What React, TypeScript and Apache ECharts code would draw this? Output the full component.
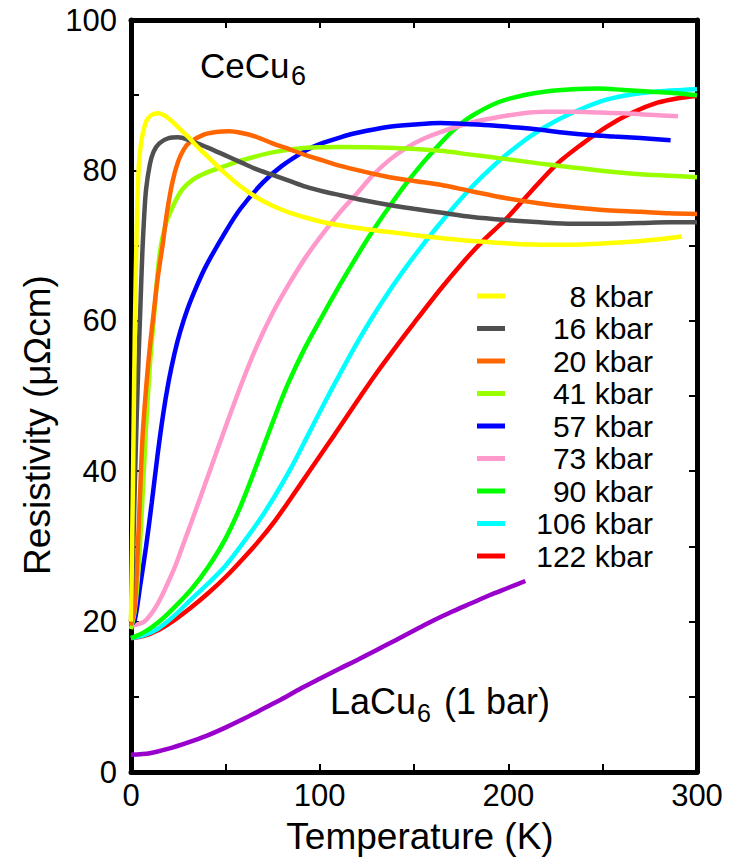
import React, { useEffect, useRef } from "react";
import * as echarts from "echarts";

const FONT = "'Liberation Sans', Arial, sans-serif";

// pressure labels (legend order)
const legendNames = ["8 kbar", "16 kbar", "20 kbar", "41 kbar", "57 kbar", "73 kbar", "90 kbar", "106 kbar", "122 kbar"];
const legendColors = ["#ffff00", "#505050", "#ff6600", "#99ff00", "#0000ff", "#ff99cc", "#00ff00", "#00ffff", "#ff0000"];

// [Temperature (K), Resistivity (µΩcm)]
const k8: [number, number][] = [[0,20],[1,38],[2,58],[3,72],[4,80],[5,83],[6,84.6],[8,86.5],[10,87.2],[12,87.5],[14.5,87.6],[17,87.4],[20,86.9],[24,86],[28,85],[31,84.3],[35,83.2],[40,82],[49,79.8],[58,77.9],[66,76.5],[75,75.3],[84,74.4],[93,73.7],[102,73.1],[111,72.7],[124,72.2],[137,71.8],[150,71.4],[164,71],[181,70.6],[199,70.3],[212,70.15],[226,70.1],[239,70.15],[252,70.3],[265,70.5],[279,70.8],[292,71.2]];
const k16: [number, number][] = [[0,20],[1,28],[2,38],[3,47],[4,55],[5,62],[6,69],[7,74],[8,77.5],[10,80.8],[12,82.5],[15,83.6],[20,84.3],[25,84.4],[30,84.1],[40,83.1],[50,82],[58,81.1],[66,80.2],[75,79.4],[84,78.6],[93,77.8],[102,77.2],[111,76.7],[124,76],[137,75.4],[150,74.9],[164,74.4],[181,73.8],[199,73.4],[217,73.1],[234,72.9],[252,72.9],[270,73],[285,73.1],[300,73.1]];
const k20: [number, number][] = [[0,19.5],[2,22],[4,32],[6,44],[8,51],[10,56.5],[12,61],[14,65.4],[17,70.5],[19,74.3],[22,78.5],[25,81.2],[28,82.8],[31,83.7],[38,84.7],[45,85.1],[52,85.2],[58,85],[66,84.5],[75,83.6],[84,82.8],[93,82],[102,81.3],[111,80.6],[124,79.8],[137,79.1],[150,78.6],[164,78.1],[181,77.2],[199,76.3],[217,75.6],[234,75.1],[252,74.7],[270,74.5],[285,74.3],[300,74.2]];
const k41: [number, number][] = [[0,19],[2,21.5],[4,27],[6,36],[8,46],[10,54],[12,60],[15,68.5],[18,72.5],[22,75.1],[27,77.4],[33,78.8],[40,79.7],[50,80.6],[58,81.3],[75,82.4],[93,83],[111,83.1],[137,83],[164,82.6],[180,82.1],[199,81.5],[217,80.9],[234,80.4],[252,79.9],[270,79.5],[285,79.3],[300,79.1]];
const k57: [number, number][] = [[0,19.5],[2,20.2],[5,25],[8,30],[11,35.8],[14,42],[17,47.5],[20,52],[23,55.6],[26,58.5],[30,61.6],[35,64.7],[40,67.4],[50,71.8],[58,74.9],[70,78.4],[80,80.6],[93,82.7],[100,83.5],[111,84.4],[120,85],[137,85.8],[150,86.1],[164,86.3],[175,86.2],[190,86],[205,85.7],[217,85.4],[230,85],[243,84.7],[256,84.5],[270,84.3],[286,84]];
const k73: [number, number][] = [[0,19.5],[3,19.6],[7,20],[10,20.8],[14,22.3],[18,24.3],[23,27.1],[27,29.8],[32,33.2],[41,39.5],[50,45.8],[59,51.9],[67,56.8],[75,61],[84,65],[93,68.6],[102,71.7],[111,74.5],[120,77],[128,79.3],[137,81.4],[146,83],[155,84.2],[164,85.1],[181,86.4],[195,87.1],[208,87.6],[220,87.8],[234,87.8],[248,87.7],[261,87.6],[275,87.4],[290,87.2]];
const k90: [number, number][] = [[0,17.8],[7,18.6],[14,19.8],[23,21.9],[32,24.3],[41,27.3],[50,31],[58,35.3],[67,41.1],[76,47.1],[83,51.5],[92,56.3],[102,60.9],[111,64.9],[120,68.7],[128,71.9],[137,75.2],[146,78.3],[155,81.1],[164,83.6],[172,85.6],[181,87.3],[195,89.1],[208,90],[220,90.5],[234,90.8],[248,90.9],[261,90.7],[274,90.5],[287,90.3],[300,90]];
const k106: [number, number][] = [[0,17.8],[7,18.2],[14,19],[23,20.8],[32,23],[41,25.1],[50,27.4],[58,30],[67,33.1],[76,36.6],[85,40.5],[94,44.9],[103,49.3],[110,52.6],[119,56.7],[128,60.5],[137,64],[146,67.2],[155,70.2],[164,73],[172,75.4],[181,77.9],[190,80.1],[199,82.1],[212,84.6],[226,86.7],[239,88.2],[252,89.4],[265,90.1],[279,90.5],[292,90.7],[300,90.8]];
const k122: [number, number][] = [[0,17.8],[7,18.1],[14,18.8],[23,20.2],[32,21.9],[41,23.8],[50,25.9],[58,28],[67,30.5],[76,33.3],[85,36.5],[94,39.8],[100,42],[108,44.9],[115,47.5],[122,50.1],[130,53],[140,56.4],[150,59.7],[164,64.2],[175,67.5],[186,70.5],[199,73.6],[212,77.2],[226,80.9],[239,83.5],[252,85.8],[265,87.6],[279,89],[290,89.6],[300,89.9]];
const laCu6: [number, number][] = [[0,2.3],[10,2.5],[20,3.1],[30,3.9],[40,4.8],[50,5.9],[60,7.1],[70,8.4],[80,9.7],[90,11.1],[100,12.4],[111,13.8],[120,14.9],[130,16.2],[140,17.5],[153,19.2],[160,20.1],[170,21.3],[180,22.4],[190,23.5],[200,24.5],[209,25.4]];

const ceSeries = [k8, k16, k20, k41, k57, k73, k90, k106, k122];

export default function App() {
  const ref = useRef<HTMLDivElement>(null);
  useEffect(() => {
    if (!ref.current) return;
    const chart = echarts.init(ref.current, null, { renderer: "svg" });
    const axisLine = { show: true, onZero: false, lineStyle: { color: "#000", width: 5 } };
    const tick = { show: true, inside: true, length: 8, lineStyle: { color: "#000", width: 2 } };
    const minor = { show: true, splitNumber: 2, length: 8, lineStyle: { color: "#000", width: 2 } };
    const series: any[] = [
      {
        name: "LaCu6",
        type: "line",
        data: laCu6,
        showSymbol: false,
        symbol: "none",
        smooth: 0.3,
        silent: true,
        lineStyle: { color: "#9900cc", width: 4.5 },
        itemStyle: { color: "#9900cc" },
      },
    ];
    // draw high pressure first so 8 kbar is on top
    for (let i = ceSeries.length - 1; i >= 0; i--) {
      series.push({
        name: legendNames[i],
        type: "line",
        data: ceSeries[i],
        showSymbol: false,
        symbol: "none",
        smooth: 0.3,
        silent: true,
        lineStyle: { color: legendColors[i], width: 4.5 },
        itemStyle: { color: legendColors[i] },
      });
    }
    const txt = (text: string, x: number, y: number, fontSize: number, extra: any = {}) => ({
      type: "text",
      x,
      y,
      ...extra,
      style: { text, fontSize, fontFamily: FONT, fill: "#000", align: "left", verticalAlign: "middle", ...(extra.style || {}) },
    });
    chart.setOption({
      animation: false,
      backgroundColor: "#ffffff",
      textStyle: { fontFamily: FONT },
      grid: { left: 131, right: 44, top: 20, bottom: 88, containLabel: false },
      xAxis: [
        {
          type: "value",
          min: 0,
          max: 300,
          interval: 100,
          position: "bottom",
          axisLine,
          axisTick: tick,
          minorTick: minor,
          splitLine: { show: false },
          minorSplitLine: { show: false },
          axisLabel: { fontSize: 31, color: "#000", margin: 8, fontFamily: FONT },
        },
        {
          type: "value",
          min: 0,
          max: 300,
          interval: 100,
          position: "top",
          axisLine,
          axisTick: tick,
          minorTick: minor,
          splitLine: { show: false },
          axisLabel: { show: false },
        },
      ],
      yAxis: [
        {
          type: "value",
          min: 0,
          max: 100,
          interval: 20,
          position: "left",
          axisLine,
          axisTick: tick,
          minorTick: minor,
          splitLine: { show: false },
          minorSplitLine: { show: false },
          axisLabel: { fontSize: 31, color: "#000", margin: 14, fontFamily: FONT },
        },
        {
          type: "value",
          min: 0,
          max: 100,
          interval: 20,
          position: "right",
          axisLine,
          axisTick: tick,
          minorTick: minor,
          splitLine: { show: false },
          axisLabel: { show: false },
        },
      ],
      legend: {
        data: legendNames,
        orient: "vertical",
        left: 477,
        top: 281,
        padding: 0,
        itemWidth: 28,
        itemHeight: 5,
        itemGap: 2.5,
        icon: "rect",
        selectedMode: false,
        formatter: (name: string) => `{n|${name}}`,
        textStyle: {
          fontSize: 30,
          color: "#000",
          fontFamily: FONT,
          rich: { n: { width: 143, align: "right", fontSize: 30, color: "#000", fontFamily: FONT } },
        },
      },
      graphic: [
        txt("Temperature (K)", 420, 836, 37, { style: { align: "center" } }),
        txt("Resistivity (μΩcm)", 37, 425, 37, { rotation: Math.PI / 2, style: { align: "center" } }),
        txt("CeCu", 200, 65, 35),
        txt("6", 291, 76, 27),
        txt("LaCu", 330, 701, 36),
        txt("6", 417, 713, 25),
        txt("(1 bar)", 444, 701, 36),
      ],
      series,
    });
    return () => chart.dispose();
  }, []);
  return <div ref={ref} style={{ position: "absolute", left: 0, top: 0, width: 741, height: 860 }} />;
}
